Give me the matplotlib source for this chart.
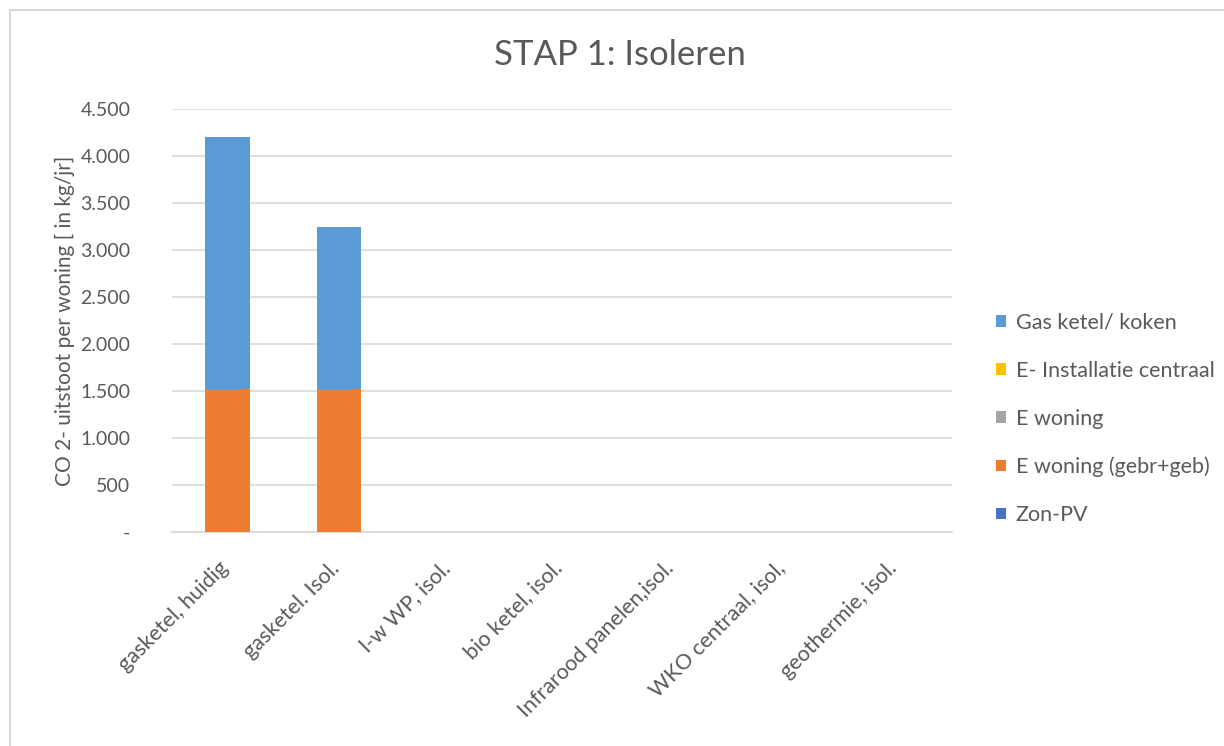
import matplotlib
matplotlib.use("Agg")
import matplotlib.pyplot as plt
from matplotlib.patches import Rectangle, Patch
from matplotlib.ticker import FuncFormatter
from matplotlib.transforms import ScaledTranslation

plt.rcParams['font.family'] = ['Lato', 'DejaVu Sans']

categories = ["gasketel, huidig", "gasketel. Isol.", "l-w WP, isol.", "bio ketel, isol.",
              "Infrarood panelen,isol.", "WKO centraal, isol,", "geothermie, isol."]

zon_pv = [0, 0, 0, 0, 0, 0, 0]
e_woning_gebr = [1520, 1520, 0, 0, 0, 0, 0]
e_woning = [0, 0, 0, 0, 0, 0, 0]
e_install = [0, 0, 0, 0, 0, 0, 0]
gas_ketel = [2680, 1730, 0, 0, 0, 0, 0]

series = [
    ("Zon-PV", zon_pv, "#4472c4"),
    ("E woning (gebr+geb)", e_woning_gebr, "#ed7d31"),
    ("E woning", e_woning, "#a5a5a5"),
    ("E- Installatie centraal", e_install, "#ffc000"),
    ("Gas ketel/ koken", gas_ketel, "#5b9bd5"),
]

text_col = "#595959"
fig = plt.figure(figsize=(12.24, 7.46), dpi=100)

# outer chart frame
fig.patches.append(Rectangle((10 / 1224, -0.05), 1.2, 1 - 10 / 746 + 0.05,
                             transform=fig.transFigure, fill=False,
                             edgecolor="#d0d0d0", linewidth=1.2))

ax = fig.add_axes([172 / 1224, 1 - 532 / 746, 780 / 1224, (532 - 109) / 746])

x = list(range(len(categories)))
bottom = [0] * len(categories)
for name, vals, col in series:
    ax.bar(x, vals, width=0.4, bottom=bottom, color=col, label=name, zorder=3)
    bottom = [b + v for b, v in zip(bottom, vals)]

ax.set_xlim(-0.5, len(categories) - 0.5)
ax.set_ylim(0, 4500)
ax.set_yticks(range(0, 4501, 500))


def fmt(v, pos):
    if v == 0:
        return "-"
    return f"{int(v):,}".replace(",", ".")


ax.yaxis.set_major_formatter(FuncFormatter(fmt))
ax.grid(axis="y", color="#d9d9d9", linewidth=1.2, zorder=0)
for s in ["top", "right", "left"]:
    ax.spines[s].set_visible(False)
ax.spines["bottom"].set_color("#d9d9d9")
ax.spines["bottom"].set_linewidth(1.2)
ax.tick_params(axis="both", length=0, colors=text_col, labelsize=14)
ax.tick_params(axis="y", pad=30)
ax.set_xticks(x)
ax.set_xticklabels(categories, rotation=45, ha="right", rotation_mode="anchor",
                   fontsize=15.5, color=text_col)
ax.tick_params(axis="x", pad=10)
shift = ScaledTranslation(-10 / 100, -12 / 100, fig.dpi_scale_trans)
for lbl in ax.get_xticklabels():
    lbl.set_transform(lbl.get_transform() + shift)

ax.set_ylabel("CO 2- uitstoot per woning [ in kg/jr]", fontsize=15, color=text_col)
ax.yaxis.set_label_coords(-0.124, 0.5)

fig.text(620 / 1224, 1 - 55 / 746, "STAP 1: Isoleren", ha="center", va="center",
         fontsize=25, color=text_col)

handles = [Patch(facecolor=c, label=n) for n, _, c in reversed(series)]
fig.legend(handles=handles, loc="center left", bbox_to_anchor=(977 / 1224, 1 - 419 / 746),
           frameon=False, fontsize=15.5, handlelength=0.45, handleheight=0.45,
           handletextpad=0.45, labelspacing=1.3, labelcolor=text_col)

fig.savefig("out.png", dpi=100, facecolor="white")
